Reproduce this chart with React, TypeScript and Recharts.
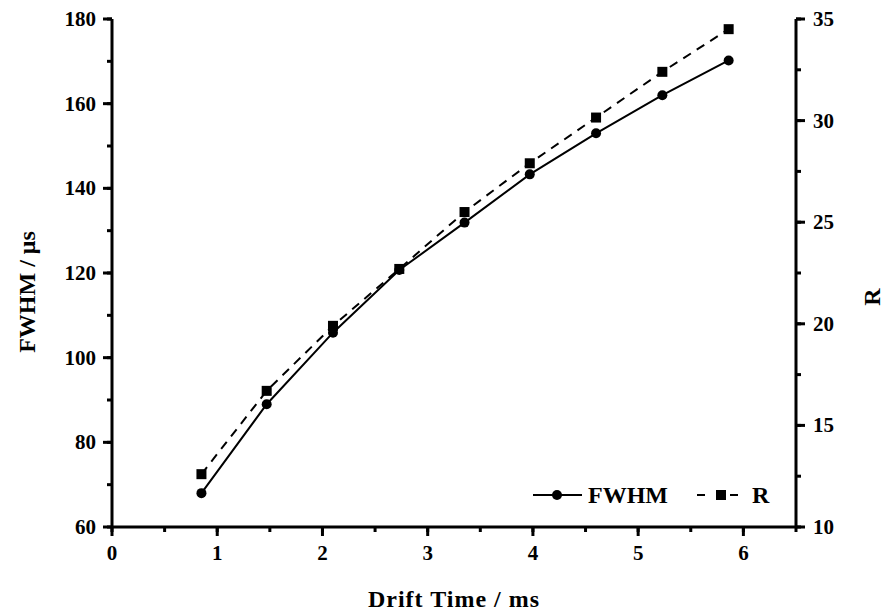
import React from 'react';
import { LineChart, Line, XAxis, YAxis } from 'recharts';

const driftTime = [0.85, 1.47, 2.1, 2.73, 3.35, 3.97, 4.6, 5.23, 5.86];
const fwhm = [68.0, 89.0, 105.9, 120.7, 131.9, 143.3, 153.0, 162.0, 170.2];
const rValues = [12.6, 16.7, 19.9, 22.7, 25.5, 27.9, 30.15, 32.4, 34.5];

const xTicks = [0, 0.5, 1, 1.5, 2, 2.5, 3, 3.5, 4, 4.5, 5, 5.5, 6, 6.5];
const leftTicks = [60, 70, 80, 90, 100, 110, 120, 130, 140, 150, 160, 170, 180];
const rightTicks = [10, 12.5, 15, 17.5, 20, 22.5, 25, 27.5, 30, 32.5, 35];

const data = driftTime.map((t, i) => ({ t, fwhm: fwhm[i], r: rValues[i] }));

const FONT = '"Liberation Serif", "Times New Roman", serif';
const TFS = 21;
const LFS = 24;
const MINOR = 5;

const XTick = (props: any) => {
  const { x, y, payload } = props;
  const v = payload.value;
  const major = Number.isInteger(v);
  return (
    <g>
      {major && <line x1={x} y1={y - MINOR} x2={x} y2={y + 4} stroke="#000" strokeWidth={3} />}
      {major && (
        <text x={x} y={y + 28} textAnchor="middle" fontFamily={FONT} fontWeight="bold" fontSize={TFS} fill="#000">
          {v}
        </text>
      )}
    </g>
  );
};

const LeftTick = (props: any) => {
  const { x, y, payload } = props;
  const v = payload.value;
  const major = v % 20 === 0;
  return (
    <g>
      {major && <line x1={x + MINOR} y1={y} x2={x - 4} y2={y} stroke="#000" strokeWidth={3} />}
      {major && (
        <text x={x - 11} y={y + 7} textAnchor="end" fontFamily={FONT} fontWeight="bold" fontSize={TFS} fill="#000">
          {v}
        </text>
      )}
    </g>
  );
};

const RightTick = (props: any) => {
  const { x, y, payload } = props;
  const v = payload.value;
  const major = v % 5 === 0;
  return (
    <g>
      {major && <line x1={x - MINOR} y1={y} x2={x + 4} y2={y} stroke="#000" strokeWidth={3} />}
      {major && (
        <text x={x + 12} y={y + 7} textAnchor="start" fontFamily={FONT} fontWeight="bold" fontSize={TFS} fill="#000">
          {v}
        </text>
      )}
    </g>
  );
};

const Square = (props: any) => {
  const { cx, cy } = props;
  if (cx == null || cy == null) return null;
  return <rect x={cx - 5} y={cy - 5} width={10} height={10} fill="#000" />;
};

const Circle = (props: any) => {
  const { cx, cy } = props;
  if (cx == null || cy == null) return null;
  return <circle cx={cx} cy={cy} r={5} fill="#000" />;
};

const LegendBox = () => (
  <svg width={260} height={30} style={{ position: 'absolute', left: 525, top: 483 }}>
    <line x1={8} y1={12} x2={57} y2={12} stroke="#000" strokeWidth={2} />
    <circle cx={32} cy={12} r={5} fill="#000" />
    <text x={63} y={20} fontFamily={FONT} fontWeight="bold" fontSize={LFS} fill="#000">FWHM</text>
    <line x1={172} y1={12} x2={180} y2={12} stroke="#000" strokeWidth={2} />
    <rect x={191} y={7} width={10} height={10} fill="#000" />
    <line x1={205} y1={12} x2={213} y2={12} stroke="#000" strokeWidth={2} />
    <text x={227} y={20} fontFamily={FONT} fontWeight="bold" fontSize={LFS} fill="#000">R</text>
  </svg>
);

const tickLineStyle = { stroke: '#000', strokeWidth: 3 };
const axisLineStyle = { stroke: '#000', strokeWidth: 3 };

export default function App() {
  return (
    <div style={{ position: 'absolute', left: 0, top: 0, width: 885, height: 615, background: '#fff' }}>
      <LineChart width={885} height={615} data={data} margin={{ top: 19, right: 0, bottom: 0, left: 0 }}>
        <XAxis
          dataKey="t"
          type="number"
          domain={[0, 6.5]}
          ticks={xTicks}
          interval={0}
          height={88}
          tickSize={MINOR}
          tickMargin={0}
          tickLine={tickLineStyle}
          tick={<XTick />}
          axisLine={axisLineStyle}
          label={{
            content: () => (
              <text
                x={454}
                y={607}
                textAnchor="middle"
                fontFamily={FONT}
                fontWeight="bold"
                fontSize={LFS}
                letterSpacing={1}
                fill="#000"
              >
                Drift Time / ms
              </text>
            ),
          }}
        />
        <YAxis
          yAxisId="left"
          domain={[60, 180]}
          ticks={leftTicks}
          interval={0}
          width={112}
          tickSize={MINOR}
          tickMargin={0}
          tickLine={tickLineStyle}
          tick={<LeftTick />}
          axisLine={axisLineStyle}
          label={{
            content: () => (
              <text
                x={35}
                y={292}
                transform="rotate(-90 35 292)"
                textAnchor="middle"
                fontFamily={FONT}
                fontWeight="bold"
                fontSize={LFS}
                fill="#000"
              >
                FWHM / μs
              </text>
            ),
          }}
        />
        <YAxis
          yAxisId="right"
          orientation="right"
          domain={[10, 35]}
          ticks={rightTicks}
          interval={0}
          width={89}
          tickSize={MINOR}
          tickMargin={0}
          tickLine={tickLineStyle}
          tick={<RightTick />}
          axisLine={axisLineStyle}
          label={{
            content: () => (
              <text
                x={880}
                y={297}
                transform="rotate(-90 880 297)"
                textAnchor="middle"
                fontFamily={FONT}
                fontWeight="bold"
                fontSize={LFS}
                fill="#000"
              >
                R
              </text>
            ),
          }}
        />
        <Line
          yAxisId="left"
          dataKey="fwhm"
          type="linear"
          stroke="#000"
          strokeWidth={2}
          dot={<Circle />}
          activeDot={false}
          isAnimationActive={false}
        />
        <Line
          yAxisId="right"
          dataKey="r"
          type="linear"
          stroke="#000"
          strokeWidth={2}
          strokeDasharray="9 7"
          dot={<Square />}
          activeDot={false}
          isAnimationActive={false}
        />
      </LineChart>
      <LegendBox />
    </div>
  );
}
